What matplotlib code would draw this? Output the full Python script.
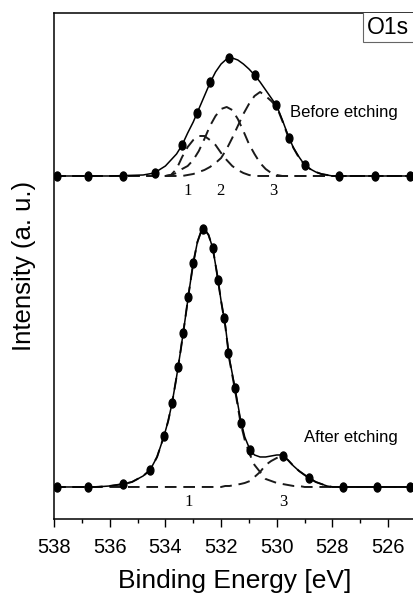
import matplotlib
matplotlib.use('Agg')
import matplotlib.pyplot as plt
import numpy as np
from matplotlib.path import Path
from matplotlib.patches import Rectangle
from matplotlib.transforms import Affine2D

plt.rcParams['font.family'] = ['Liberation Sans', 'DejaVu Sans']

# ---- O1s, before etching (three fitted components) ----
upper_e = [538.0, 536.0, 534.8, 534.4, 534.0, 533.8, 533.6, 533.4, 533.2, 533.0,
           532.8, 532.6, 532.4, 532.2, 532.0, 531.8, 531.6, 531.4, 531.2, 531.0,
           530.8, 530.6, 530.4, 530.2, 530.0, 529.8, 529.6, 529.4, 529.2, 529.0,
           528.8, 528.6, 528.4, 528.2, 528.0, 527.6, 525.0]
upper_fit = [0, 0, 1, 3, 10, 16, 22, 31, 43, 54,
             67, 80, 93, 104, 112, 117, 118, 116, 112, 107,
             101, 94, 86, 78, 70, 56, 41, 28, 19, 11,
             7, 4, 2, 1, 0, 0, 0]
upper_c1 = [0, 0, 0, 0, 0, 1, 7, 19, 29, 36,
            40, 40, 36, 31, 23, 16, 10, 6, 3, 1,
            0, 0, 0, 0, 0, 0, 0, 0, 0, 0,
            0, 0, 0, 0, 0, 0, 0]
upper_c2 = [0, 0, 0, 0, 0, 1, 3, 7, 10, 16,
            25, 37, 50, 60, 67, 69, 66, 57, 45, 32,
            22, 13, 7, 3, 1, 0, 0, 0, 0, 0,
            0, 0, 0, 0, 0, 0, 0]
upper_c3 = [0, 0, 0, 0, 0, 0, 0, 0, 1, 2,
            4, 6, 9, 13, 18, 27, 38, 50, 62, 72,
            80, 84, 80, 75, 69, 55, 40, 28, 18, 11,
            7, 4, 2, 1, 0, 0, 0]
upper_pts_e = [537.89, 536.78, 535.52, 534.37, 533.40, 532.86, 532.39, 531.71,
               530.78, 530.02, 529.56, 528.98, 527.76, 526.47, 525.21]
upper_pts_i = [0, 0, 0, 3, 31, 63, 94, 118, 101, 71, 38, 11, 0, 0, 0]

# ---- O1s, after etching (two fitted components) ----
lower_e = [538.0, 536.5, 536.0, 535.5, 535.2, 535.0, 534.8, 534.55, 534.3, 534.05,
           533.9, 533.76, 533.6, 533.45, 533.3, 533.15, 533.0, 532.85, 532.7, 532.6,
           532.45, 532.3, 532.15, 532.0, 531.85, 531.7, 531.5, 531.3, 531.15, 530.96,
           530.8, 530.6, 530.4, 530.2, 530.0, 529.8, 529.6, 529.4, 529.2, 529.0,
           528.84, 528.6, 528.4, 528.2, 528.0, 525.0]
lower_fit = [0, 0, 1, 3, 5, 8, 11, 17, 30, 51,
             66, 84, 110, 137, 166, 196, 224, 245, 257, 258,
             252, 239, 214, 186, 162, 128, 99, 67, 50, 37,
             32, 30, 30, 31, 32, 32, 27, 21, 16, 12,
             9, 5, 3, 1, 0, 0]
lower_c1 = [0, 0, 1, 3, 5, 8, 11, 17, 30, 51,
            66, 84, 110, 137, 166, 196, 224, 245, 257, 258,
            252, 239, 214, 186, 161, 127, 97, 64, 47, 32,
            22, 15, 8, 6, 4, 3, 2, 1, 1, 0,
            0, 0, 0, 0, 0, 0]
lower_c3 = [0, 0, 0, 0, 0, 0, 0, 0, 0, 0,
            0, 0, 0, 0, 0, 0, 0, 0, 0, 0,
            0, 0, 0, 0, 1, 1, 2, 3, 4, 6,
            10, 15, 22, 26, 29, 31, 27, 21, 16, 12,
            9, 5, 3, 1, 0, 0]
lower_pts_e = [537.89, 536.78, 535.52, 534.55, 534.05, 533.76, 533.54, 533.36,
               533.18, 533.0, 532.65, 532.29, 532.1, 531.89, 531.75, 531.5,
               531.28, 530.96, 529.77, 528.84, 527.62, 526.39, 525.21]
lower_pts_i = [0, 0, 3, 17, 51, 84, 120, 154, 190, 224, 258, 239, 207, 169,
               134, 99, 64, 37, 31, 9, 0, 0, 0]

upper_shift = 343
lower_shift = 32

fig = plt.figure(figsize=(4.13, 5.99), dpi=100)
ax = fig.add_axes([0.1308, 0.1336, 0.8765, 0.8447])

dash = (0, (6, 3.5))
dot = Path.unit_circle().transformed(Affine2D().scale(0.75, 1.0))

for e, curves, fit, pe, pi, shift in [
        (upper_e, [upper_c1, upper_c2, upper_c3], upper_fit, upper_pts_e, upper_pts_i, upper_shift),
        (lower_e, [lower_c1, lower_c3], lower_fit, lower_pts_e, lower_pts_i, lower_shift)]:
    e = np.array(e)
    for c in curves:
        ax.plot(e, np.array(c) + shift, color='#1a1a1a', lw=1.4, linestyle=dash)
    ax.plot(e, np.array(fit) + shift, color='black', lw=1.1)
    ax.plot(pe, np.array(pi) + shift, linestyle='none', marker=dot,
            markersize=6.5, color='black')

# peak numbers
for x, s in [(533.2, '1'), (532.04, '2'), (530.13, '3')]:
    ax.text(x, upper_shift - 15, s, family='Liberation Serif', fontsize=12,
            ha='center', va='center')
for x, s in [(533.18, '1'), (529.77, '3')]:
    ax.text(x, lower_shift - 15, s, family='Liberation Serif', fontsize=12,
            ha='center', va='center')

ax.text(529.52, 406, 'Before etching', fontsize=12, ha='left', va='center')
ax.text(529.02, 81, 'After etching', fontsize=12, ha='left', va='center')

ax.add_patch(Rectangle((526.9, 477), -2.5, 40, facecolor='white',
                       edgecolor='#666666', lw=0.8, zorder=5))
ax.text(526.78, 491, 'O1s', fontsize=16.5, ha='left', va='center', zorder=6)

ax.set_xlim(538, 525)
ax.set_ylim(0, 506)
ax.set_xticks(np.arange(538, 525, -2))
ax.set_xticks(np.arange(537, 525, -2), minor=True)
ax.set_yticks([])
ax.tick_params(axis='x', which='major', direction='out', length=6, width=1,
               labelsize=14.5, pad=8)
ax.tick_params(axis='x', which='minor', direction='out', length=3, width=1)
for sp in ax.spines.values():
    sp.set_linewidth(1.1)

ax.set_xlabel('Binding Energy [eV]', fontsize=19, labelpad=8)
ax.set_ylabel('Intensity (a. u.)', fontsize=18.5, labelpad=13)

fig.savefig('out.png', dpi=100)
